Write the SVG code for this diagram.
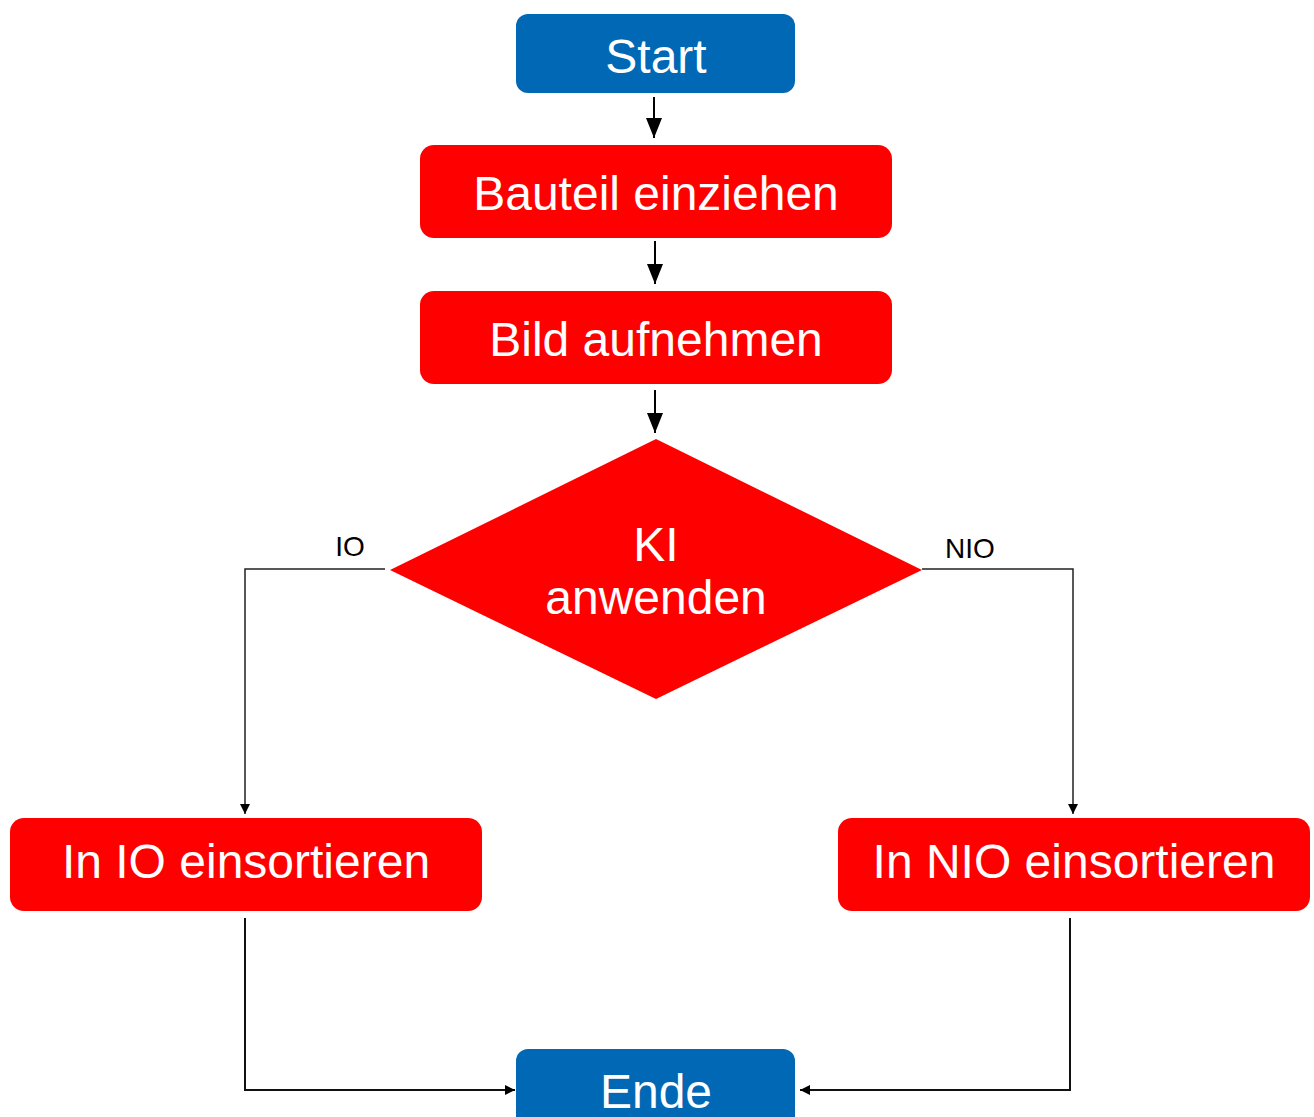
<svg xmlns="http://www.w3.org/2000/svg" width="1314" height="1117" viewBox="0 0 1314 1117">
<defs>
<style>
.blue{fill:#0068b4}
.red{fill:#ff0000}
.t{font-family:"Liberation Sans",Arial,sans-serif;font-size:48px;fill:#ffffff;text-anchor:middle}
.lbl{font-family:"Liberation Sans",Arial,sans-serif;font-size:28px;fill:#000000;text-anchor:middle}
.c{fill:none;stroke:#000;stroke-width:2}
.c1{fill:none;stroke:#222;stroke-width:1.5}
.c2{fill:none;stroke:#111;stroke-width:2}
</style>
<marker id="big" viewBox="0 0 20 16" refX="20" refY="8" markerWidth="20" markerHeight="16" markerUnits="userSpaceOnUse" orient="auto"><path d="M0,0 L20,8 L0,16 Z" fill="#000"/></marker>
<marker id="sm" viewBox="0 0 10 10" refX="10" refY="5" markerWidth="10" markerHeight="10" markerUnits="userSpaceOnUse" orient="auto"><path d="M0,0 L10,5 L0,10 Z" fill="#000"/></marker>
</defs>
<rect width="1314" height="1117" fill="#fff"/>
<g id="connectors">
<line class="c" x1="654" y1="97" x2="654" y2="138" marker-end="url(#big)"/>
<line class="c" x1="655" y1="241" x2="655" y2="284" marker-end="url(#big)"/>
<line class="c" x1="655" y1="390" x2="655" y2="433" marker-end="url(#big)"/>
<polyline class="c1" points="385,569 245,569 245,814" marker-end="url(#sm)"/>
<polyline class="c1" points="922,569 1073,569 1073,814" marker-end="url(#sm)"/>
<polyline class="c2" points="245,918 245,1090 515,1090" marker-end="url(#sm)"/>
<polyline class="c2" points="1070,918 1070,1090 800,1090" marker-end="url(#sm)"/>
<text class="lbl" x="350" y="556">IO</text>
<text class="lbl" x="970" y="558">NIO</text>
</g>
<g id="start"><rect class="blue" x="516" y="14" width="279" height="79" rx="12"/><text class="t" x="656" y="73">Start</text></g>
<g id="bauteil"><rect class="red" x="420" y="145" width="472" height="93" rx="14"/><text class="t" x="656" y="210">Bauteil einziehen</text></g>
<g id="bild"><rect class="red" x="420" y="291" width="472" height="93" rx="14"/><text class="t" x="656" y="356">Bild aufnehmen</text></g>
<g id="ki"><polygon class="red" points="656,439 922,570 656,699 390,570"/><text class="t" x="656" y="561">KI</text><text class="t" x="656" y="614">anwenden</text></g>
<g id="io"><rect class="red" x="10" y="818" width="472" height="93" rx="14"/><text class="t" x="246" y="878">In IO einsortieren</text></g>
<g id="nio"><rect class="red" x="838" y="818" width="472" height="93" rx="14"/><text class="t" x="1074" y="878">In NIO einsortieren</text></g>
<g id="ende"><rect class="blue" x="516" y="1049" width="279" height="100" rx="12"/><text class="t" x="656" y="1108">Ende</text></g>
</svg>
